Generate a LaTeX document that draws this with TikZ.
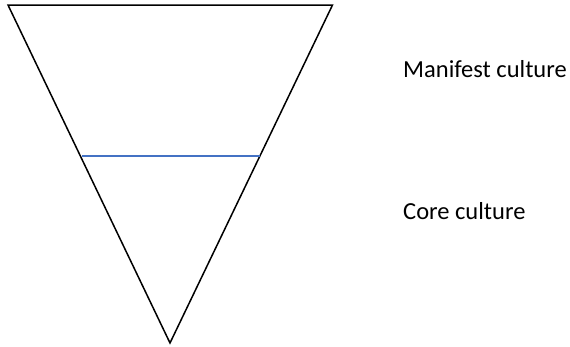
\documentclass[tikz,border=0pt]{standalone}
\usepackage{fontspec}
\setmainfont{Carlito}
\definecolor{lineblue}{RGB}{68,114,196}
\begin{document}
\begin{tikzpicture}[x=1pt,y=-1pt,
  lbl/.style={anchor=base west,inner sep=0pt,font=\fontsize{24.5}{28}\selectfont}]
\useasboundingbox (0,0) rectangle (570,346);
\coordinate (tl) at (8,5);
\coordinate (tr) at (332.5,5);
\coordinate (bt) at (170,343);
\draw[line width=1.5pt,line join=miter] (tl) -- (tr) -- (bt) -- cycle;
\coordinate (bl) at (82,156);
\coordinate (br) at (260,156);
\draw[lineblue,line width=1.3pt] (bl) -- (br);
\node[lbl] (m) at (403,77) {Manifest culture};
\node[lbl] (c) at (403,219) {Core culture};
\end{tikzpicture}
\end{document}
